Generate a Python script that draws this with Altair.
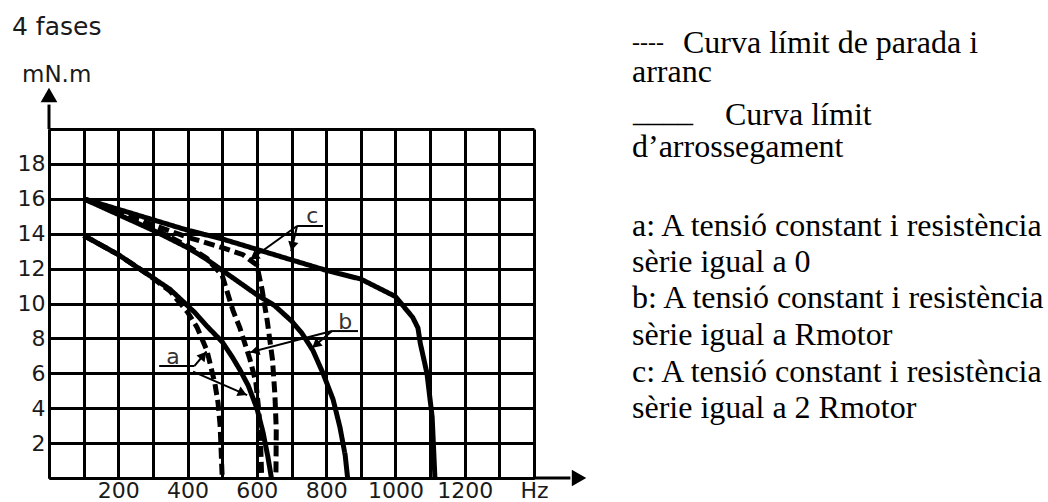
import math

import altair as alt
import pandas as pd

# ---------------------------------------------------------------------------
# Torque curves of a 4-phase stepper: frequency (Hz) vs torque (mN.m)
# ---------------------------------------------------------------------------
a_solid_hz = [100, 200, 283, 350, 420, 456, 500, 530, 551, 575, 600, 618, 632, 642]
a_solid_tq = [13.9, 12.8, 11.7, 10.8, 9.5, 8.7, 7.8, 6.9, 6.2, 5.3, 4.0, 2.6, 1.2, 0.0]

a_dash_hz = [100, 200, 283, 350, 400, 427, 456, 479, 488, 494, 497, 500]
a_dash_tq = [13.9, 12.8, 11.7, 10.7, 9.5, 8.65, 7.3, 5.4, 4.3, 3.0, 1.5, 0.0]

b_solid_hz = [100, 200, 300, 400, 450, 500, 550, 600, 650, 700, 730, 762, 791, 820, 840, 855, 862]
b_solid_tq = [16.0, 15.1, 14.2, 13.2, 12.6, 11.9, 11.2, 10.5, 9.9, 9.0, 8.3, 7.3, 6.0, 4.5, 2.9, 1.3, 0.0]

b_dash_hz = [100, 200, 300, 400, 455, 500, 531, 551, 580, 597, 605, 610, 614]
b_dash_tq = [16.0, 15.2, 14.3, 13.3, 12.6, 11.6, 9.6, 8.6, 6.8, 5.5, 4.0, 2.5, 0.0]

c_solid_hz = [100, 200, 300, 400, 500, 600, 700, 800, 900, 1000, 1050, 1065, 1072, 1091, 1106, 1114]
c_solid_tq = [16.0, 15.4, 14.8, 14.2, 13.7, 13.1, 12.5, 11.9, 11.4, 10.4, 9.2, 8.6, 7.7, 6.0, 3.5, 0.0]

c_dash_hz = [100, 200, 300, 400, 500, 560, 600, 615, 630, 645, 652, 656, 655]
c_dash_tq = [16.0, 15.3, 14.5, 13.8, 13.2, 12.8, 12.2, 10.8, 9.0, 6.8, 4.8, 2.8, 0.0]

curves = [
    ("a", "solid", a_solid_hz, a_solid_tq),
    ("a", "dashed", a_dash_hz, a_dash_tq),
    ("b", "solid", b_solid_hz, b_solid_tq),
    ("b", "dashed", b_dash_hz, b_dash_tq),
    ("c", "solid", c_solid_hz, c_solid_tq),
    ("c", "dashed", c_dash_hz, c_dash_tq),
]

# Curve labels with their underline and the arrows pointing at the curves
label_text = ["a", "b", "c"]
label_hz = [358, 855, 760]
label_tq = [6.55, 8.55, 14.6]
underline_hz = [318, 817, 716]
underline_hz2 = [420, 892, 791]
underline_tq = [6.42, 8.42, 14.44]

arrow_from_hz = [420, 416, 817, 817, 716, 716]
arrow_from_tq = [6.42, 6.1, 8.42, 8.42, 14.44, 14.44]
arrow_to_hz = [455, 572, 759, 580, 699, 580]
arrow_to_tq = [7.25, 4.75, 7.45, 7.2, 13.0, 12.5]

x_ticks = list(range(0, 1401, 100))
y_ticks = list(range(0, 21, 2))

# ---------------------------------------------------------------------------
W, H = 485, 349
X_MAX, Y_MAX = 1400, 20
px_hz = W / X_MAX
px_tq = H / Y_MAX

rows = []
for name, style, hz, tq in curves:
    for i, (f, t) in enumerate(zip(hz, tq)):
        rows.append({"curve": f"{name}-{style}", "style": style, "i": i, "hz": f, "tq": t})
curve_df = pd.DataFrame(rows)

x_scale = alt.Scale(domain=[0, X_MAX], nice=False, zero=False)
y_scale = alt.Scale(domain=[0, Y_MAX], nice=False, zero=False)

# One axis definition per channel, shared by every layer so nothing conflicts
x_axis = alt.Axis(
    values=x_ticks,
    format="d",
    labelExpr="datum.value == 1400 ? 'Hz' : (datum.value > 0 && datum.value % 200 == 0 ? datum.label : '')",
    title=None,
    grid=True,
    gridColor="black",
    gridWidth=3,
    gridOpacity=1,
    domainColor="black",
    domainWidth=3,
    ticks=False,
    labelFont="DejaVu Sans",
    labelFontSize=22,
    labelColor="#1a1a1a",
    labelPadding=2,
    labelOverlap=False,
    labelFlush=False,
)
y_axis = alt.Axis(
    values=y_ticks,
    labelExpr="datum.value > 0 && datum.value < 20 ? datum.label : ''",
    title=None,
    grid=True,
    gridColor="black",
    gridWidth=3,
    gridOpacity=1,
    domainColor="black",
    domainWidth=3,
    ticks=False,
    labelFont="DejaVu Sans",
    labelFontSize=22,
    labelColor="#1a1a1a",
    labelPadding=4,
    labelOverlap=False,
    labelFlush=False,
)


def X(field):
    return alt.X(field, type="quantitative", scale=x_scale, axis=x_axis)


def Y(field):
    return alt.Y(field, type="quantitative", scale=y_scale, axis=y_axis)


lines = alt.Chart(curve_df).mark_line(color="black", strokeWidth=5, strokeCap="butt").encode(
    x=X("hz"),
    y=Y("tq"),
    detail="curve:N",
    order="i:Q",
    strokeDash=alt.StrokeDash(
        "style:N",
        scale=alt.Scale(domain=["solid", "dashed"], range=[[1, 0], [11, 5]]),
        legend=None,
    ),
)

# Axis extensions ending in arrowheads
axis_ext = pd.DataFrame({
    "x1": [X_MAX, 0], "x2": [1505, 0],
    "y1": [0, Y_MAX], "y2": [0, 21.4],
})
axis_rules = alt.Chart(axis_ext).mark_rule(color="black", strokeWidth=3).encode(
    x=X("x1"), x2="x2:Q", y=Y("y1"), y2="y2:Q"
)
axis_heads_df = pd.DataFrame({"x": [1530, 0], "y": [0, 21.95], "shape": ["triangle-right", "triangle-up"]})
axis_heads = alt.Chart(axis_heads_df).mark_point(filled=True, color="black", opacity=1, size=280).encode(
    x=X("x"),
    y=Y("y"),
    shape=alt.Shape("shape:N", scale=None),
)

# Curve labels
lab_df = pd.DataFrame({"t": label_text, "x": label_hz, "y": label_tq})
labels = alt.Chart(lab_df).mark_text(
    font="DejaVu Sans", fontSize=22, color="#333", baseline="alphabetic", align="center"
).encode(x=X("x"), y=Y("y"), text="t:N")

ul_df = pd.DataFrame({"x1": underline_hz, "x2": underline_hz2, "y": underline_tq})
underlines = alt.Chart(ul_df).mark_rule(color="black", strokeWidth=2).encode(
    x=X("x1"), x2="x2:Q", y=Y("y")
)

ar_rows = []
for fx, fy, tx, ty in zip(arrow_from_hz, arrow_from_tq, arrow_to_hz, arrow_to_tq):
    dx = (tx - fx) * px_hz
    dy = -(ty - fy) * px_tq
    length = math.hypot(dx, dy)
    ux, uy = dx / length, dy / length
    back = 5.0
    hx = tx - ux * back / px_hz
    hy = ty + uy * back / px_tq
    ang = math.degrees(math.atan2(dx, -dy)) % 360
    ar_rows.append({"fx": fx, "fy": fy, "tx": tx, "ty": ty, "hx": hx, "hy": hy, "ang": ang})
ar_df = pd.DataFrame(ar_rows)

arrow_lines = alt.Chart(ar_df).mark_rule(color="black", strokeWidth=2).encode(
    x=X("fx"), x2="tx:Q", y=Y("fy"), y2="ty:Q"
)
arrow_heads = alt.Chart(ar_df).mark_point(
    shape="triangle-up", filled=True, color="black", opacity=1, size=110
).encode(
    x=X("hx"),
    y=Y("hy"),
    angle=alt.Angle("ang:Q", scale=None),
)

# Texts outside the plot area (pixel offsets from the plot origin)
OX, OY = 49, 129
head_df = pd.DataFrame({
    "t": ["4 fases", "mN.m"],
    "x": [12 - OX, 22 - OX],
    "y": [35 - OY, 82 - OY],
    "s": [25, 23],
})
heads = alt.Chart(head_df).mark_text(
    font="DejaVu Sans", color="#1a1a1a", align="left", baseline="alphabetic"
).encode(
    x=alt.X("x:Q", scale=None),
    y=alt.Y("y:Q", scale=None),
    text="t:N",
    size=alt.Size("s:Q", scale=None, legend=None),
)

notes = [
    ("Curva límit de parada i", 683, 53, 32),
    ("arranc", 632, 82, 32),
    ("Curva límit", 725, 125, 32),
    ("d’arrossegament", 632, 157, 32),
    ("a: A tensió constant i resistència", 632, 236, 32),
    ("sèrie igual a 0", 632, 272, 32),
    ("b: A tensió constant i resistència", 632, 308, 32),
    ("sèrie igual a Rmotor", 632, 345, 32),
    ("c: A tensió constant i resistència", 632, 382, 32),
    ("sèrie igual a 2 Rmotor", 632, 418, 32),
    ("----", 632, 50, 24),
    ("____", 633, 122, 30),
]
note_df = pd.DataFrame({
    "t": [n[0] for n in notes],
    "x": [n[1] - OX for n in notes],
    "y": [n[2] - OY for n in notes],
    "s": [n[3] for n in notes],
})
note_text = alt.Chart(note_df).mark_text(
    font="Liberation Serif", color="black", align="left", baseline="alphabetic"
).encode(
    x=alt.X("x:Q", scale=None),
    y=alt.Y("y:Q", scale=None),
    text="t:N",
    size=alt.Size("s:Q", scale=None, legend=None),
)

chart = (
    alt.layer(lines, axis_rules, axis_heads, underlines, arrow_lines, arrow_heads, labels, heads, note_text)
    .properties(
        width=W,
        height=H,
        autosize=alt.AutoSizeParams(type="none"),
        padding={"left": OX, "top": OY, "right": 1048 - OX - W, "bottom": 502 - OY - H},
        background="white",
    )
    .configure_view(strokeWidth=0)
)

chart.save("out.html", embed_options={"renderer": "svg", "actions": False})
